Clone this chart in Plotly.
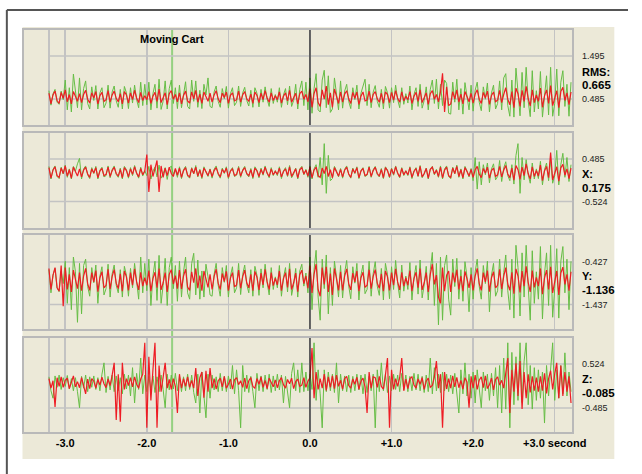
import plotly.graph_objects as go

# ---------------- data ----------------
# sample time base (seconds): 0.025 s steps from -3.2 s to +3.2 s
T0, DT, N = -3.2, 0.025, 257
time_s = [round(T0 + DT * i, 4) for i in range(N)]

channels = ["RMS:", "X:", "Y:", "Z:"]
channel_value = ["0.665", "0.175", "-1.136", "-0.085"]
grid_hi = [1.495, 0.485, -0.427, 0.524]
grid_lo = [0.485, -0.524, -1.437, -0.485]
grid_hi_txt = ["1.495", "0.485", "-0.427", "0.524"]
grid_lo_txt = ["0.485", "-0.524", "-1.437", "-0.485"]
channel_offset = [0.53, 0.17, -0.86, 0.09]   # mean level of each trace (g)

x_tick_vals = [-3, -2, -1, 0, 1, 2, 3]
x_tick_text = ["-3.0", "-2.0", "-1.0", "0.0", "+1.0", "+2.0", "+3.0 second"]
marker_time = -1.69

# deviations from the mean level, in 1/100 g (green = reference run, red = current run)
rms_green = [
    15, -19, 8, 18, -12, -17, 14, -6, 40, -30, 22, -35, 54, 12, -25, 45,
    -30, 20, 38, -15, -28, 24, -8, 27, -28, 10, 22, -25, -14, 28, -26, 12,
    26, -9, -24, 18, -28, 25, 10, -27, 22, -14, 28, -6, -25, 35, -20, 30,
    -18, 35, -30, 8, 30, -26, 42, -29, -10, 38, -28, 20, 40, -15, 22, -27,
    28, -25, 12, 36, -22, -28, 40, -10, 38, -24, 16, -27, 30, 5, 45, -22,
    -25, 12, 26, -10, -24, 20, -4, 25, -26, 8, 22, -20, -12, 26, -22, 10,
    23, -8, -21, 16, -24, 22, 9, -23, 18, -12, 24, -5, -22, 20, -15, 6,
    -12, 22, -24, 5, 20, -18, 26, -22, -8, 30, -28, 18, 38, -20, 35, -30,
    45, -38, 20, 55, -30, -35, 40, 63, -25, 50, -36, -28, 45, 10, -30, 38,
    -26, 14, 30, -10, -27, 22, -6, 28, -28, 9, 24, 42, -20, 30, -25, 12,
    27, -10, -24, 18, -28, 25, 10, -26, 22, -13, 28, -6, -25, 22, -17, 8,
    -14, 26, -30, 6, 22, -22, 30, -26, -8, 24, -30, 18, 40, -15, 42, -28,
    30, -20, 40, 32, -38, -40, 35, -12, 42, -30, 20, -40, 34, 5, -30, 28,
    -33, 16, 35, -12, -32, 24, -5, 33, -35, 10, 28, -28, -15, 38, -30, 45,
    55, -20, -45, 40, -47, 68, 20, -44, 58, -25, 70, -10, -46, 62, -35, 15,
    -28, 60, -47, 10, 50, -42, 70, -45, -15, 66, -44, 35, 62, -22, 30, -45,
    35]
rms_red = [
    9, -16, 5, 14, -8, -15, 11, -3, 17, -11, 6, -16, 13, 2, -10, 8,
    -13, 6, 16, -5, -14, 10, -2, 13, -16, 3, 11, -10, -6, 15, -12, 5,
    14, -3, -11, 8, -16, 13, 5, -14, 10, -6, 16, -2, -13, 11, -8, 3,
    -6, 13, -15, 2, 11, -10, 19, -13, -3, 10, -18, 8, 15, -5, 6, -11,
    10, -16, 4, 14, -9, -14, 12, -4, 16, -12, 7, -15, 12, 1, -10, 9,
    -12, 5, 15, -4, -13, 9, -1, 12, -15, 4, 10, -9, -6, 14, -12, 5,
    13, -4, -10, 7, -15, 12, 4, -13, 9, -6, 15, -2, -12, 10, -8, 3,
    -6, 12, -14, 2, 10, -9, 16, -12, -3, 9, -16, 8, 14, -5, 6, -11,
    20, -24, 8, 22, -13, -22, 17, -5, 26, -18, 10, -24, 19, 3, -15, 12,
    -12, 7, 15, -4, -15, 11, -3, 12, -17, 2, 12, -9, -7, 14, -13, 6,
    13, -4, -12, 9, -15, 12, 6, -13, 11, -7, 15, -3, -12, 12, -9, 2,
    -6, 13, -15, 2, 11, -10, 17, -13, -3, 10, -17, 8, 15, -5, 6, -11,
    12, 56, -35, 24, -20, -16, 13, -4, 17, -12, 7, -16, 13, 2, -11, 9,
    -14, 7, 17, -5, -15, 11, -2, 14, -17, 4, 12, -11, -7, 16, -13, 6,
    22, -5, -18, 13, -25, 21, 8, -22, 16, -10, 25, -3, -21, 17, -13, 5,
    -10, 21, -24, 3, 17, -15, 27, -20, -5, 15, -25, 13, 23, -8, 10, -18,
    12]

x_green = [
    14, -16, 7, 15, -10, -15, 12, -4, 17, -12, 8, -16, 14, 3, 20, 33,
    -16, 8, 15, -6, -15, 11, -3, 14, -16, 5, 12, -11, -8, 15, -13, 6,
    15, -5, -12, 10, -16, 14, 6, -14, 11, -8, 16, -3, -14, 12, -9, 4,
    -8, 14, -16, 3, 12, -11, 17, -14, -4, 11, -17, 9, 15, -6, 7, -12,
    13, -15, 6, 14, -9, -14, 11, -4, 16, -11, 7, -15, 13, 2, -10, 8,
    -14, 7, 15, -5, -14, 10, -3, 13, -15, 4, 11, -10, -7, 14, -12, 6,
    14, -5, -11, 9, -15, 13, 5, -13, 10, -7, 15, -3, -13, 11, -8, 4,
    -8, 13, -15, 3, 11, -10, 16, -13, -4, 10, -16, 8, 14, -6, 7, -12,
    15, -16, 8, 18, -12, 35, -30, 68, -50, 40, -20, -15, 14, 3, -11, 9,
    -14, 7, 15, -5, -14, 10, -3, 13, -15, 4, 11, -10, -7, 14, -12, 6,
    14, -5, -11, 9, -15, 13, 5, -13, 10, -7, 15, -3, -13, 11, -8, 4,
    -8, 13, -15, 3, 11, -10, 16, -13, -4, 10, -16, 8, 14, -6, 7, -12,
    15, -16, 8, 15, -10, -15, 12, -4, 17, -12, 8, -16, 14, 3, -11, 9,
    -20, 35, -40, 25, -30, 18, -6, 22, -25, 8, 20, -18, -10, 28, -22, 10,
    25, -8, -20, 18, -28, 40, 68, -50, 35, -18, 30, -6, -26, 22, -16, 8,
    -15, 26, -30, 6, 22, -20, 30, -26, -8, 52, -30, 18, 45, -12, 35, -22,
    18]
x_red = [
    11, -14, 5, 13, -8, -12, 10, -3, 15, -9, 6, -14, 12, 2, -9, 8,
    -11, 5, 12, -4, -12, 8, -2, 11, -13, 3, 9, -8, -5, 12, -10, 4,
    12, -3, -9, 7, -13, 11, 4, -11, 8, -5, 13, -2, -11, 9, -6, 3,
    42, -47, 18, -10, 8, 28, -47, 15, -12, 10, -8, 12, -3, -10, 9, -7,
    10, -12, 4, 11, -7, -11, 9, -3, 12, -9, 5, -12, 10, 1, -8, 7,
    -10, 4, 11, -3, -11, 7, -1, 10, -12, 3, 8, -8, -5, 11, -9, 4,
    11, -3, -8, 6, -12, 10, 3, -10, 7, -5, 12, -2, -10, 8, -6, 2,
    -5, 10, -11, 2, 8, -8, 13, -10, -2, 8, -13, 6, 11, -4, 5, -9,
    12, -13, 5, 12, -8, -12, 10, -3, 14, -10, 6, -13, 11, 2, -9, 7,
    -11, 5, 12, -4, -12, 8, -2, 11, -13, 3, 9, -8, -5, 12, -10, 4,
    12, -3, -9, 7, -13, 11, 4, -11, 8, -5, 13, -2, -11, 9, -6, 3,
    -6, 11, -12, 2, 9, -9, 14, -11, -3, 9, -14, 7, 12, -4, 5, -10,
    12, -13, 5, 12, -8, -12, 10, -3, 14, -10, 6, -13, 11, 2, -9, 7,
    -12, 6, 14, -4, -13, 9, -2, 12, -14, 4, 10, -10, -6, 14, -11, 5,
    16, -4, -13, 10, -19, 16, 6, -17, 12, -8, 20, -3, -16, 13, -10, 4,
    -9, 17, -20, 3, 14, -13, 47, -18, -4, 13, -21, 10, 19, -7, 8, -15,
    10]

y_green = [
    25, -30, 12, 28, -18, -27, 22, -8, 45, -55, 30, -70, 55, 20, -100, 40,
    -80, 35, 50, -15, -38, 30, -6, 36, -55, 10, 32, -35, -20, 38, -40, 15,
    36, -12, -30, 25, -40, 33, 12, -38, 28, -18, 40, -6, -45, 55, -30, 40,
    -25, 50, -60, 10, 45, -48, 59, -55, -12, 52, -60, 30, 55, -20, 35, -50,
    45, -40, 20, 55, -30, -45, 40, 64, -35, 48, -45, 22, -40, 38, 8, -35,
    -38, 14, 40, -12, -38, 30, -5, 35, -40, 10, 32, -30, -18, 40, -34, 14,
    36, -10, -30, 25, -38, 33, 12, -36, 27, -18, 38, -6, -35, 30, -22, 8,
    -18, 35, -38, 6, 30, -28, 40, -36, -10, 28, -40, 22, 38, -14, 17, -30,
    55, -70, 25, 71, -40, -95, 50, -20, 60, -80, 30, -60, 45, 8, -40, 35,
    -42, 18, 47, -14, -44, 32, -7, 40, -47, 12, 36, -32, -22, 45, -38, 16,
    44, -14, -36, 28, -47, 40, 14, -44, 32, -22, 47, -7, -42, 36, -26, 10,
    -22, 42, -47, 7, 35, -33, 48, -42, -11, 33, -47, 25, 66, -60, 40, -106,
    55, -95, 35, 60, -45, -83, 50, -15, 52, -45, 25, -50, 44, 8, -75, 30,
    -45, 20, 50, -15, -45, 35, -8, 45, -75, 12, 40, -38, -25, 50, -40, 18,
    60, -25, -70, 50, -90, 83, 30, -85, 65, -40, 83, -15, -95, 70, -55, 20,
    -45, 80, -92, 15, 65, -60, 83, -88, -20, 75, -90, 45, 80, -30, 50, -70,
    45]
y_red = [
    28, -22, 12, 30, -18, -26, 35, -62, 30, -22, 14, -28, 24, 5, -20, 18,
    -25, 10, 28, -8, -24, 18, -4, 23, -27, 6, 20, -18, -12, 26, -21, 9,
    25, -7, -20, 15, -26, 22, 8, -24, 18, -12, 27, -4, -23, 19, -14, 6,
    -12, 23, -26, 4, 19, -18, 28, -23, -6, 18, -28, 14, 25, -9, 11, -20,
    24, -21, 10, 26, -16, -24, 20, -6, 28, -19, 11, -25, 22, 3, -17, 14,
    -22, 9, 26, -7, -22, 16, -3, 21, -25, 5, 18, -16, -11, 24, -19, 8,
    24, -6, -18, 14, -25, 21, 7, -23, 17, -11, 26, -4, -22, 18, -13, 5,
    -11, 22, -25, 4, 18, -17, 27, -22, -6, 17, -27, 13, 24, -8, 10, -19,
    35, -30, 14, 38, -22, -38, 30, -10, 32, -28, 16, -35, 28, 4, -24, 20,
    -24, 10, 27, -8, -23, 17, -4, 22, -26, 6, 19, -17, -12, 25, -20, 9,
    25, -7, -19, 15, -26, 22, 8, -24, 18, -12, 27, -4, -23, 19, -14, 6,
    -12, 23, -26, 4, 19, -18, 28, -23, -6, 18, -28, 14, 38, -10, 12, -40,
    -55, 30, -26, 12, 22, -28, 18, -5, 25, -22, 10, -26, 21, 3, -18, 14,
    -24, 10, 28, -8, -24, 18, -4, 23, -27, 6, 20, -18, -12, 26, -21, 9,
    30, -9, -24, 19, -32, 27, 10, -29, 22, -14, 33, -5, -28, 23, -17, 7,
    -14, 28, -33, 5, 24, -22, 32, -30, -7, 22, -35, 17, 31, -10, 14, -25,
    20]

z_green = [
    14, -18, -35, 16, -10, 18, -15, 12, -8, 17, -14, 10, -18, 12, -20, -57,
    15, -12, 18, -20, 14, -10, 16, -15, 12, -18, 20, 46, -22, 15, -16, 18,
    -20, 16, -18, 12, -25, 20, -14, 18, -30, 35, -46, 22, -15, 57, -25, 18,
    -20, 15, -18, 16, -22, 14, -20, 18, -15, -57, 20, -16, 18, -14, 22, -18,
    16, -20, 14, -18, 20, -15, 18, -22, -46, 20, -69, 25, -30, -80, 20, -35,
    18, -16, 14, -20, 22, -18, 15, -20, 16, -14, 40, -25, 30, -18, -103, 40,
    -20, 18, -22, 15, -20, -57, 22, -18, 16, -20, 18, -15, 20, -22, 16, -18,
    20, -16, 18, -46, 15, -20, -57, 22, 46, -18, 30, -22, 46, -20, 25, -18,
    20, -15, 92, -40, 30, -25, -103, 30, -20, 25, -18, 20, -22, 46, -46, 20,
    -18, 16, -20, 18, -22, 15, -18, 20, -16, 18, -25, 20, -22, 15, -18, 20,
    -103, 30, -20, 46, -18, 20, -22, 16, -18, 20, -15, 18, -20, 22, -16, 18,
    -20, 15, -18, 22, -16, 20, -18, 15, -22, 18, -20, 57, -25, 35, -18, 20,
    -22, 25, -18, 20, -20, 18, -25, 22, -20, -69, 30, -25, 46, -30, 20, -35,
    25, -46, 30, -20, -57, 25, -18, 20, -40, 22, -30, 35, -57, 40, -69, 57,
    -60, 92, -103, 70, -50, 60, -40, 92, -45, 50, 92, -50, 40, -60, 35, -40,
    30, -35, 25, -92, 40, -30, 35, 92, -40, 30, -35, 40, -25, 69, -30, 25,
    -20]
z_red = [
    10, -12, 5, -55, 12, -8, 14, -10, 6, 11, -13, 4, 16, -9, 3, -11,
    12, -6, -25, 9, -13, 10, 4, -12, 8, -5, 13, -2, -11, 9, -6, 18,
    46, -85, 20, -89, 46, -15, 10, -6, 12, -9, 14, -3, -12, 9, 20, 92,
    -103, 60, -40, 30, 92, -103, 40, -20, 15, 46, -12, 8, -15, 10, -8, -69,
    20, -12, 10, -8, 14, -10, 6, -12, 34, -30, 12, 25, -34, 28, -20, 34,
    -12, 10, -14, 5, 11, -9, 15, -12, -3, 9, -14, 7, 12, -4, 5, -10,
    11, -13, 5, 12, -8, -12, 10, -3, 14, -10, 6, -13, 11, 2, -9, 7,
    -11, 5, 12, -4, -12, 8, -2, 11, -13, 3, 9, -8, -5, 12, -10, 4,
    12, 80, -35, 25, -15, 10, -12, 20, -17, 14, -10, 16, -13, 18, -8, 6,
    -14, 10, 15, -6, -12, 9, -3, 13, -15, 4, 11, -9, -69, 25, -12, 14,
    12, -10, 15, -8, -14, 18, 57, -103, 30, -15, 10, -8, 12, 57, -18, 9,
    -13, 10, 14, -5, -12, 9, -3, 12, -15, 4, 11, -10, -6, 14, 50, -12,
    20, -103, 25, -14, 10, -12, 16, -9, 13, -11, 6, -14, 12, 2, -57, 15,
    -12, 18, -15, 6, 14, -11, 16, -13, -4, 11, -16, 8, 14, -5, 6, -12,
    20, 57, -69, 30, -20, 45, -30, 50, -60, 25, -35, 20, -22, 15, -18, 12,
    -20, 15, -18, 22, -24, 10, 28, -15, 20, 46, -35, 40, -30, 25, -20, 15,
    -46]

green_series = [rms_green, x_green, y_green, z_green]
red_series = [rms_red, x_red, y_red, z_red]

# ---------------- layout geometry (pixels) ----------------
W, H = 642, 474
panel_top = [30, 133, 235, 338]
panel_bot = [125, 228, 329, 432]
grid_hi_px = [56, 159, 262, 364]
grid_lo_px = [99, 201.5, 304.5, 408]
name_px = [72, 173.5, 276, 379]
value_px = [85, 188, 290, 392.5]
X_RANGE = [-3.5, 3.215]
X_DOM = [25 / W, 585 / W]


def py(p):
    return 1 - p / H


GREEN = "#66BD45"
RED = "#EE1C24"
BEIGE = "#ECE9D8"
GRID = "#C3C3C3"
FONT = "Liberation Sans"

fig = go.Figure()
shapes = []
annotations = []

for k in range(4):
    n = "" if k == 0 else str(k + 1)
    u = (grid_hi[k] - grid_lo[k]) / (grid_lo_px[k] - grid_hi_px[k])
    y_top = grid_hi[k] + (grid_hi_px[k] - panel_top[k]) * u
    y_bot = grid_lo[k] - (panel_bot[k] - grid_lo_px[k]) * u

    g = [channel_offset[k] + v / 100 for v in green_series[k]]
    r = [channel_offset[k] + v / 100 for v in red_series[k]]
    assert len(g) == N and len(r) == N, (k, len(g), len(r))
    fig.add_trace(go.Scatter(x=time_s, y=g, mode="lines",
                             line=dict(color=GREEN, width=1),
                             xaxis="x" + n, yaxis="y" + n, showlegend=False,
                             hoverinfo="skip"))
    fig.add_trace(go.Scatter(x=time_s, y=r, mode="lines",
                             line=dict(color=RED, width=1.2),
                             xaxis="x" + n, yaxis="y" + n, showlegend=False,
                             hoverinfo="skip"))

    last = k == 3
    fig.layout["xaxis" + n] = dict(
        domain=X_DOM, range=X_RANGE, anchor="y" + n,
        tickmode="array",
        tickvals=[-3.2] + x_tick_vals,
        ticktext=[""] + x_tick_text,
        showticklabels=last, ticks="",
        tickfont=dict(family=FONT, size=11, color="#000", weight="bold"),
        showgrid=True, gridcolor=GRID, gridwidth=1.5,
        zeroline=False,
        showline=True, mirror=True, linecolor="#B9B9B9", linewidth=2,
        fixedrange=True,
    )
    fig.layout["yaxis" + n] = dict(
        domain=[py(panel_bot[k]), py(panel_top[k])], range=[y_bot, y_top],
        anchor="x" + n, showgrid=False, zeroline=False, showticklabels=False,
        ticks="", showline=True, mirror=True, linecolor="#B9B9B9", linewidth=2,
        fixedrange=True,
    )
    # horizontal grid lines start at the first sample
    for gv in (grid_hi[k], grid_lo[k]):
        shapes.append(dict(type="line", xref="x" + n, yref="y" + n,
                           x0=-3.2, x1=X_RANGE[1], y0=gv, y1=gv,
                           line=dict(color=GRID, width=1.5), layer="below"))
    # time-zero line, drawn over the traces
    shapes.append(dict(type="line", xref="x" + n, yref="y" + n + " domain",
                       x0=0, x1=0, y0=0, y1=1,
                       line=dict(color="#000", width=1), layer="above"))

    lx = 593 / W
    annotations += [
        dict(x=lx, y=py(grid_hi_px[k]), text=grid_hi_txt[k]),
        dict(x=lx, y=py(grid_lo_px[k]), text=grid_lo_txt[k]),
    ]
    annotations += [
        dict(x=lx, y=py(name_px[k]), text="<b>%s</b>" % channels[k],
             font=dict(family=FONT, size=11, color="#000")),
        dict(x=lx, y=py(value_px[k]), text="<b>%s</b>" % channel_value[k],
             font=dict(family=FONT, size=11.5, color="#000")),
    ]

for a in annotations:
    a.update(xref="paper", yref="paper", xanchor="left", yanchor="middle",
             showarrow=False)
    a.setdefault("font", dict(family=FONT, size=9, color="#222"))

annotations.append(dict(x=176 / W, y=py(39), xref="paper", yref="paper",
                        text="<b>Moving Cart</b>", showarrow=False,
                        xanchor="center", yanchor="middle",
                        font=dict(family=FONT, size=11, color="#000")))

# background panel + outer frame (kept inside the paper)
shapes = [
    dict(type="rect", xref="paper", yref="paper", x0=23 / W, x1=628 / W,
         y0=py(459), y1=py(27), fillcolor=BEIGE, line=dict(width=0),
         layer="below"),
    dict(type="line", xref="paper", yref="paper", x0=7 / W, x1=1,
         y0=py(10), y1=py(10), line=dict(color="#555", width=2), layer="below"),
    dict(type="line", xref="paper", yref="paper", x0=7 / W, x1=7 / W,
         y0=py(10), y1=0, line=dict(color="#555", width=2), layer="below"),
] + shapes

# event marker crossing all panels
shapes.append(dict(type="line", xref="x", yref="paper", x0=marker_time,
                   x1=marker_time, y0=py(432), y1=py(30),
                   line=dict(color="rgba(120,200,100,0.75)", width=2),
                   layer="below"))

fig.update_layout(
    width=W, height=H, autosize=False, margin=dict(l=0, r=0, t=0, b=0),
    paper_bgcolor="#FFFFFF", plot_bgcolor="rgba(0,0,0,0)",
    shapes=shapes, annotations=annotations, showlegend=False,
    font=dict(family=FONT),
)

# fill the whole browser viewport (it may be a little wider than the
# nominal 642 px before the photo is scaled back down)
fig.write_html(
    "out.html",
    config={"displayModeBar": False, "staticPlot": True, "responsive": False},
    post_script=(
        "document.documentElement.style.overflow='hidden';"
        "document.body.style.overflow='hidden';"
        "document.body.style.margin='0px';"
        "document.body.style.padding='0px';"
        "var gd=document.getElementById('{plot_id}');"
        "var w=document.documentElement.clientWidth||window.innerWidth;"
        "var h=document.documentElement.clientHeight||window.innerHeight;"
        "if(!(w>=600&&w<=720)){w=642;}"
        "if(!(h>=440&&h<=520)){h=474;}"
        "gd.style.width=w+'px';gd.style.height=h+'px';"
        "Plotly.relayout(gd,{width:w,height:h});"
    ),
)
